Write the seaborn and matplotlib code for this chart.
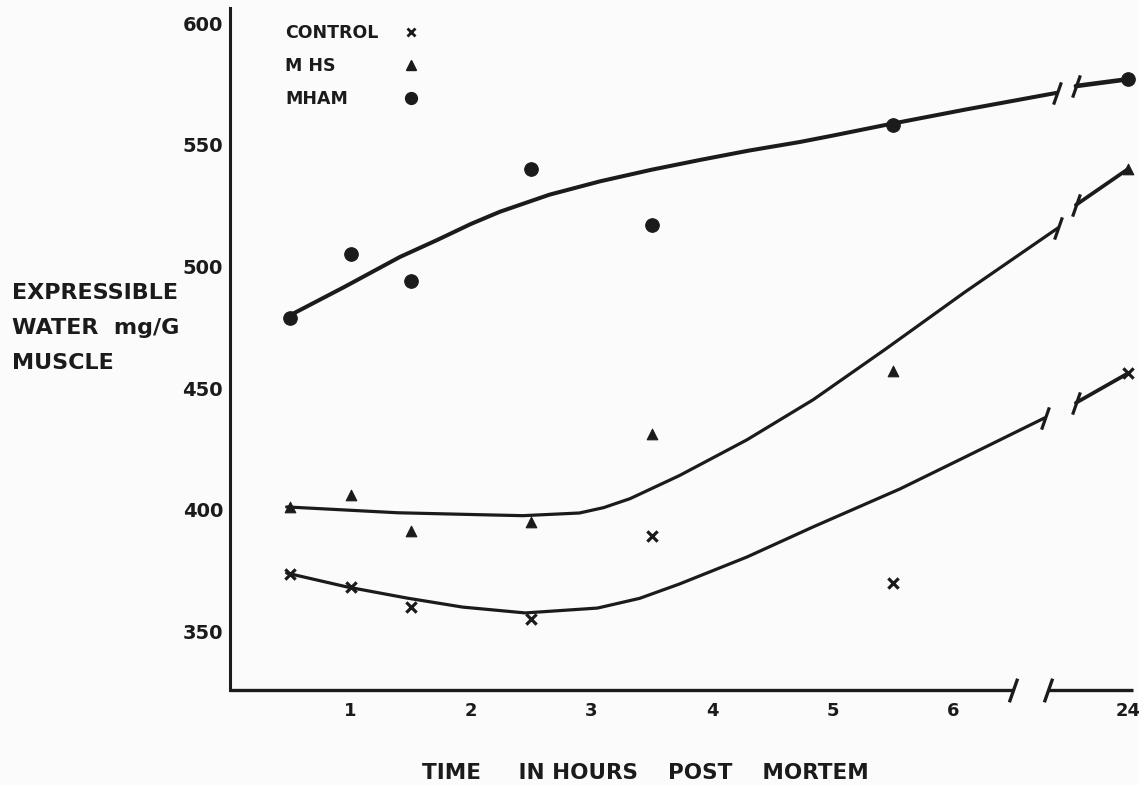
import numpy as np
import pandas as pd
import matplotlib
matplotlib.use("Agg")
import matplotlib.pyplot as plt
from matplotlib.lines import Line2D
from matplotlib.path import Path
import seaborn as sns

# Expressible water (mg/G muscle) at each sampling time (hours post mortem)
hours = [0.5, 1, 1.5, 2.5, 3.5, 5.5, 24]
control = [373.5, 368, 360, 355, 389, 370, 456]
mhs = [401, 406, 391, 395, 431, 457, 540]
mham = [479, 505, 494, 540, 517, 558, 577]

group_names = ["CONTROL", "M HS", "MHAM"]

# Hand-fitted trend curves up to the axis break
trend_hours_control = [0.47, 0.97, 1.47, 1.93, 2.45, 3.05, 3.4, 3.73, 4.29, 4.84, 5.56, 6.1, 6.76]
trend_control = [373.9, 368.2, 363.6, 359.9, 357.5, 359.5, 363.5, 369.4, 380.5, 392.9, 408.5, 421.6, 437.7]

trend_hours_mhs = [0.47, 1.39, 2.07, 2.43, 2.9, 3.1, 3.32, 3.73, 4.29, 4.84, 5.44, 6.1, 6.87]
trend_mhs = [401.1, 398.7, 397.9, 397.5, 398.6, 400.8, 404.5, 414.0, 428.7, 445.2, 466.0, 489.5, 515.8]

trend_hours_mham = [0.47, 0.95, 1.41, 1.72, 2.0, 2.24, 2.65, 3.07, 3.5, 3.9, 4.3, 4.73, 5.0, 5.44, 6.1, 6.86]
trend_mham = [479.2, 491.6, 503.9, 510.9, 517.5, 522.5, 529.5, 535.0, 539.8, 543.8, 547.6, 551.2, 553.8, 558.2, 564.5, 571.4]

# Value where each curve resumes after the break (it then runs to the 24 h reading)
resume_control = 443.9
resume_mhs = 525.3
resume_mham = 574.2

x_ticks = [1, 2, 3, 4, 5, 6, 24]
y_ticks = [350, 400, 450, 500, 550, 600]

INK = "#1b1b1b"
PAPER = "#fbfbfb"

# Broken time axis: hours up to 7 are linear, the 24 h reading sits past the gap
BREAK_HOURS = 7.0
POS_24 = 7.45
RESUME_POS = 7.02
AXIS_GAP = (6.5, 6.79)


def xpos(h):
    h = np.asarray(h, dtype=float)
    return np.where(h <= BREAK_HOURS, h, POS_24)


SLASH = Path([(-0.35, -1.0), (0.35, 1.0)])

sns.set_theme(style="white")
plt.rcParams["font.family"] = ["DejaVu Sans"]
plt.rcParams["font.weight"] = "bold"

fig = plt.figure(figsize=(11.39, 7.85), dpi=100, facecolor=PAPER)
ax = fig.add_axes([230 / 1139, 1 - 690 / 785, 906 / 1139, 682 / 785])
ax.set_facecolor(PAPER)

df = pd.DataFrame({
    "hours": hours * 3,
    "value": control + mhs + mham,
    "group": [g for g in group_names for _ in hours],
})
df["pos"] = xpos(df["hours"])

marker_style = {
    "CONTROL": dict(marker="x", s=55, linewidth=2.3),
    "M HS": dict(marker="^", s=58, linewidth=0.8, edgecolor=INK),
    "MHAM": dict(marker="o", s=95, linewidth=0.8, edgecolor=INK),
}
for name in group_names:
    sub = df[df["group"] == name]
    sns.scatterplot(data=sub, x="pos", y="value", color=INK, ax=ax,
                    legend=False, zorder=4, **marker_style[name])

curves = [
    (trend_hours_control, trend_control, resume_control, control[-1], 2.3),
    (trend_hours_mhs, trend_mhs, resume_mhs, mhs[-1], 2.3),
    (trend_hours_mham, trend_mham, resume_mham, mham[-1], 2.9),
]
for th, tv, resume, last, lw in curves:
    sns.lineplot(x=xpos(th), y=tv, sort=False, estimator=None, color=INK,
                 linewidth=lw, ax=ax, zorder=3)
    stub_x = [RESUME_POS, float(xpos(24))]
    stub_y = [resume, last]
    sns.lineplot(x=stub_x, y=stub_y, sort=False, estimator=None, color=INK,
                 linewidth=lw + 0.4, ax=ax, zorder=3)
    ax.plot([float(xpos(th[-1])), RESUME_POS], [tv[-1], resume], ls="none",
            marker=SLASH, ms=16, mew=2.3, mfc="none", mec=INK, zorder=3)

# Axes frame: left spine plus a broken baseline
for side in ("top", "right", "bottom"):
    ax.spines[side].set_visible(False)
ax.spines["left"].set_color(INK)
ax.spines["left"].set_linewidth(2.2)

xax = ax.get_xaxis_transform()
ax.plot([0, AXIS_GAP[0]], [0, 0], transform=xax, color=INK, lw=2.4,
        clip_on=False, solid_capstyle="butt")
ax.plot([AXIS_GAP[1], 7.49], [0, 0], transform=xax, color=INK, lw=2.4,
        clip_on=False, solid_capstyle="butt")
ax.plot(list(AXIS_GAP), [0, 0], transform=xax, ls="none", marker=SLASH,
        ms=17, mew=2.4, mfc="none", mec=INK, clip_on=False)

ax.set_xlim(0, 906 / 120.5)
ax.set_ylim(325.8, 606.3)
ax.set_xticks(xpos(x_ticks))
ax.set_xticklabels([str(t) for t in x_ticks], fontsize=13, fontweight="bold", color=INK)
ax.set_yticks(y_ticks)
ax.set_yticklabels([str(t) for t in y_ticks], fontsize=14, fontweight="bold", color=INK)
ax.tick_params(axis="x", length=0, pad=9)
ax.tick_params(axis="y", length=0, pad=5)
ax.grid(False)

ax.set_xlabel("TIME     IN HOURS    POST    MORTEM", fontsize=15.5,
              fontweight="bold", color=INK, va="center")
ax.xaxis.set_label_coords(0.4586, -0.1217)
ax.set_ylabel("EXPRESSIBLE\nWATER  mg/G\nMUSCLE", rotation=0, fontsize=16,
              fontweight="bold", color=INK, ha="left", va="center",
              multialignment="left", linespacing=1.95)
ax.yaxis.set_label_coords(-0.2406, 0.5308)

# Key: names in one column, symbols in another
legend_font = dict(size=12.5, weight="bold")
name_handles = [Line2D([], [], ls="none") for _ in group_names]
leg_names = ax.legend(name_handles, group_names, loc="upper left",
                      bbox_to_anchor=(0.0607, 0.976), frameon=False,
                      handlelength=0, handletextpad=0, borderpad=0,
                      borderaxespad=0, labelspacing=0.85, prop=legend_font,
                      labelcolor=INK)
ax.add_artist(leg_names)
key_handles = [
    Line2D([], [], ls="none", marker="x", ms=6, mew=2.0, color=INK),
    Line2D([], [], ls="none", marker="^", ms=6.5, color=INK),
    Line2D([], [], ls="none", marker="o", ms=8.5, color=INK),
]
ax.legend(key_handles, ["", "", ""], loc="upper left",
          bbox_to_anchor=((402 - 230) / 906, 0.976), frameon=False,
          handlelength=1.0, handletextpad=0, borderpad=0, borderaxespad=0,
          labelspacing=0.85, prop=legend_font)

fig.savefig("out.png", dpi=100, facecolor=PAPER)
